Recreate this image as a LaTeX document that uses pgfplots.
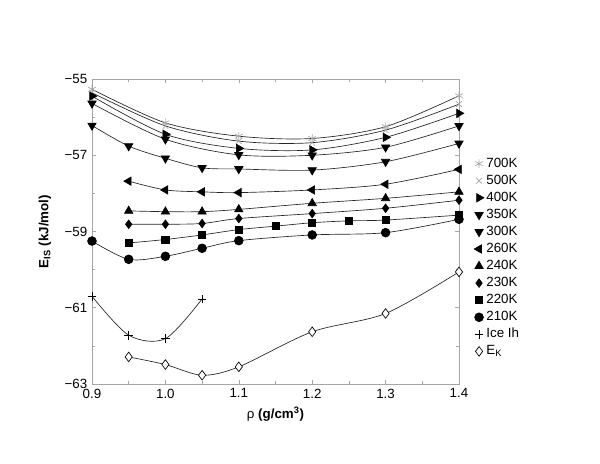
\documentclass[border=0pt]{standalone}
\usepackage{fontspec}
\setmainfont{Liberation Sans}
\usepackage{pgfplots}
\pgfplotsset{compat=1.18}
\begin{document}
\begin{tikzpicture}
% 1 px of the reference = 0.75pt
\path[use as bounding box] (-69pt,-60pt) rectangle (381pt,288pt);
\begin{axis}[
  scale only axis,
  width=275.25pt, height=228.75pt,
  xmin=0.9, xmax=1.4, ymin=-63, ymax=-55,
  xtick={0.9,1.0,...,1.41}, ytick={-63,-61,-59,-57,-55},
  yticklabels={−63,−61,−59,−57,−55},
  minor x tick num=1, minor y tick num=1,
  tick align=inside,
  major tick length=3pt, minor tick length=2pt,
  axis line style={gray!70}, every tick/.style={gray!70},
  x tick label style={/pgf/number format/.cd,fixed,fixed zerofill,precision=1},
  /pgf/number format/assume math mode=true,
  tick label style={font=\fontsize{10}{12}\selectfont},
  xlabel={ρ \textbf{(g/cm\textsuperscript{3})}},
  ylabel={\textbf{E\textsubscript{IS} (kJ/mol)}},
  label style={font=\fontsize{10}{12}\selectfont},
  xlabel style={at={(axis description cs:0.5,-0.10)},anchor=center},
  ylabel style={at={(axis description cs:-0.128,0.5)},anchor=center},
  legend style={draw=none, fill=none, at={(axis description cs:1.03,0.76)}, anchor=north west,
    font=\fontsize{10}{12}\selectfont, row sep=0pt,
    nodes={text height=7pt,text depth=2pt,inner sep=1.9pt}},
  legend cell align=left,
  legend image code/.code={\draw[#1,only marks] plot coordinates {(0.15cm,0cm)};},
  every axis plot/.append style={smooth, line width=0.5pt, black!85},
  mark size=3pt,
]
\addplot[mark=asterisk, mark options={gray!70, mark size=3.3pt}] coordinates {
(0.9,-55.27)(1.0,-56.15)(1.1,-56.50)(1.2,-56.56)(1.3,-56.25)(1.4,-55.44)};
\addlegendentry{700K}
\addplot[mark=x, mark options={gray!70, mark size=3pt}] coordinates {
(0.9,-55.36)(1.0,-56.23)(1.1,-56.63)(1.2,-56.67)(1.3,-56.34)(1.4,-55.66)};
\addlegendentry{500K}
\addplot[mark=triangle*, mark options={black, rotate=-90, mark size=3.6pt}] coordinates {
(0.9,-55.45)(1.0,-56.45)(1.1,-56.82)(1.2,-56.86)(1.3,-56.53)(1.4,-55.90)};
\addlegendentry{400K}
\addplot[mark=triangle*, mark options={black, rotate=180, mark size=3.6pt}] coordinates {
(0.9,-55.64)(1.0,-56.58)(1.1,-56.99)(1.2,-57.00)(1.3,-56.79)(1.4,-56.23)};
\addlegendentry{350K}
\addplot[mark=triangle*, mark options={black, rotate=180, mark size=3.6pt}] coordinates {
(0.9,-56.22)(0.95,-56.76)(1.0,-57.08)(1.05,-57.33)(1.1,-57.36)(1.2,-57.39)(1.3,-57.17)(1.4,-56.69)};
\addlegendentry{300K}
\addplot[mark=triangle*, mark options={black, rotate=90, mark size=3.6pt}] coordinates {
(0.95,-57.68)(1.0,-57.91)(1.05,-57.96)(1.1,-57.98)(1.2,-57.91)(1.3,-57.76)(1.4,-57.37)};
\addlegendentry{260K}
\addplot[mark=triangle*, mark options={black, mark size=3.6pt}] coordinates {
(0.95,-58.46)(1.0,-58.48)(1.05,-58.48)(1.1,-58.42)(1.2,-58.26)(1.3,-58.13)(1.4,-57.96)};
\addlegendentry{240K}
\addplot[mark=diamond*, mark options={black, mark size=3.2pt}] coordinates {
(0.95,-58.81)(1.0,-58.81)(1.05,-58.79)(1.1,-58.66)(1.2,-58.53)(1.3,-58.39)(1.4,-58.18)};
\addlegendentry{230K}
\addplot[mark=square*, mark options={black, mark size=2.7pt}] coordinates {
(0.95,-59.30)(1.0,-59.21)(1.05,-59.09)(1.1,-58.95)(1.15,-58.86)(1.2,-58.77)(1.25,-58.72)(1.3,-58.70)(1.4,-58.57)};
\addlegendentry{220K}
\addplot[mark=*, mark options={black, mark size=3.3pt}] coordinates {
(0.9,-59.25)(0.95,-59.73)(1.0,-59.65)(1.05,-59.44)(1.1,-59.24)(1.2,-59.09)(1.3,-59.03)(1.4,-58.68)};
\addlegendentry{210K}
\addplot[mark=+, mark options={black, mark size=3.3pt}] coordinates {
(0.9,-60.70)(0.95,-61.72)(1.0,-61.81)(1.05,-60.77)};
\addlegendentry{Ice Ih}
\addplot[mark=diamond*, mark options={draw=black, fill=white, mark size=3.6pt}] coordinates {
(0.95,-62.29)(1.0,-62.49)(1.05,-62.77)(1.1,-62.55)(1.2,-61.63)(1.3,-61.15)(1.4,-60.06)};
\addlegendentry{E\textsubscript{K}}
\end{axis}
\end{tikzpicture}
\end{document}
